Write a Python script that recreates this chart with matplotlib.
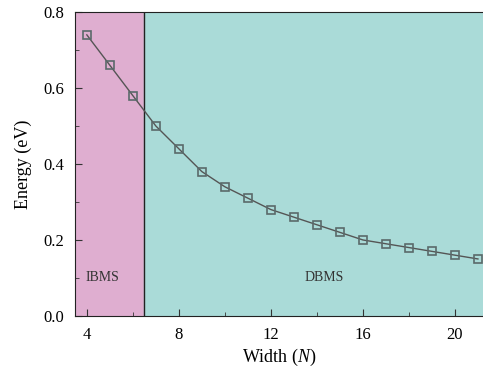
import numpy as np
import matplotlib.pyplot as plt
from matplotlib.ticker import MultipleLocator

width = [4, 5, 6, 7, 8, 9, 10, 11, 12, 13, 14, 15, 16, 17, 18, 19, 20, 21]
energy = [0.74, 0.66, 0.58, 0.50, 0.44, 0.38, 0.34, 0.31, 0.28, 0.26,
          0.24, 0.22, 0.20, 0.19, 0.18, 0.17, 0.16, 0.15]
boundary = 6.5
regions = ['IBMS', 'DBMS']

plt.rcParams['font.family'] = ['Liberation Serif', 'DejaVu Serif']
plt.rcParams['mathtext.fontset'] = 'custom'
plt.rcParams['mathtext.it'] = 'Liberation Serif:italic'

fig = plt.figure(figsize=(4.83, 3.77), dpi=100)
ax = fig.add_axes([0.155, 0.162, 0.845, 0.806])

xmin, xmax = 3.48, 21.22
ax.axvspan(xmin, boundary, color='#dfaed0', zorder=0)
ax.axvspan(boundary, xmax, color='#aadbd8', zorder=0)
ax.axvline(boundary, color='#222222', linewidth=1.0, zorder=1)

ax.plot(width, energy, '-', color='#555555', linewidth=1.0, zorder=2)
ax.plot(width, energy, 's', markersize=6, markerfacecolor='none',
        markeredgecolor='#5a6a6a', markeredgewidth=1.2, zorder=3)

ax.text(4.7, 0.1, regions[0], fontsize=10, color='#333333', ha='center', va='center')
ax.text(14.3, 0.1, regions[1], fontsize=10, color='#333333', ha='center', va='center')

ax.set_xlim(xmin, xmax)
ax.set_ylim(0, 0.8)
ax.xaxis.set_major_locator(MultipleLocator(4))
ax.xaxis.set_minor_locator(MultipleLocator(2))
ax.yaxis.set_major_locator(MultipleLocator(0.2))
ax.yaxis.set_minor_locator(MultipleLocator(0.1))
ax.yaxis.set_major_formatter(plt.FormatStrFormatter('%.1f'))
ax.tick_params(which='both', direction='in', labelsize=12, color='#333333')
ax.tick_params(which='major', length=5)
ax.tick_params(which='minor', length=3)
ax.tick_params(axis='x', pad=8)
ax.tick_params(axis='y', pad=8)
ax.spines['right'].set_visible(False)
for s in ['left', 'bottom', 'top']:
    ax.spines[s].set_color('#222222')

ax.set_xlabel('Width ($N$)', fontsize=13, labelpad=3)
ax.set_ylabel('Energy (eV)', fontsize=13, labelpad=8)

fig.savefig('out.png', dpi=100)
